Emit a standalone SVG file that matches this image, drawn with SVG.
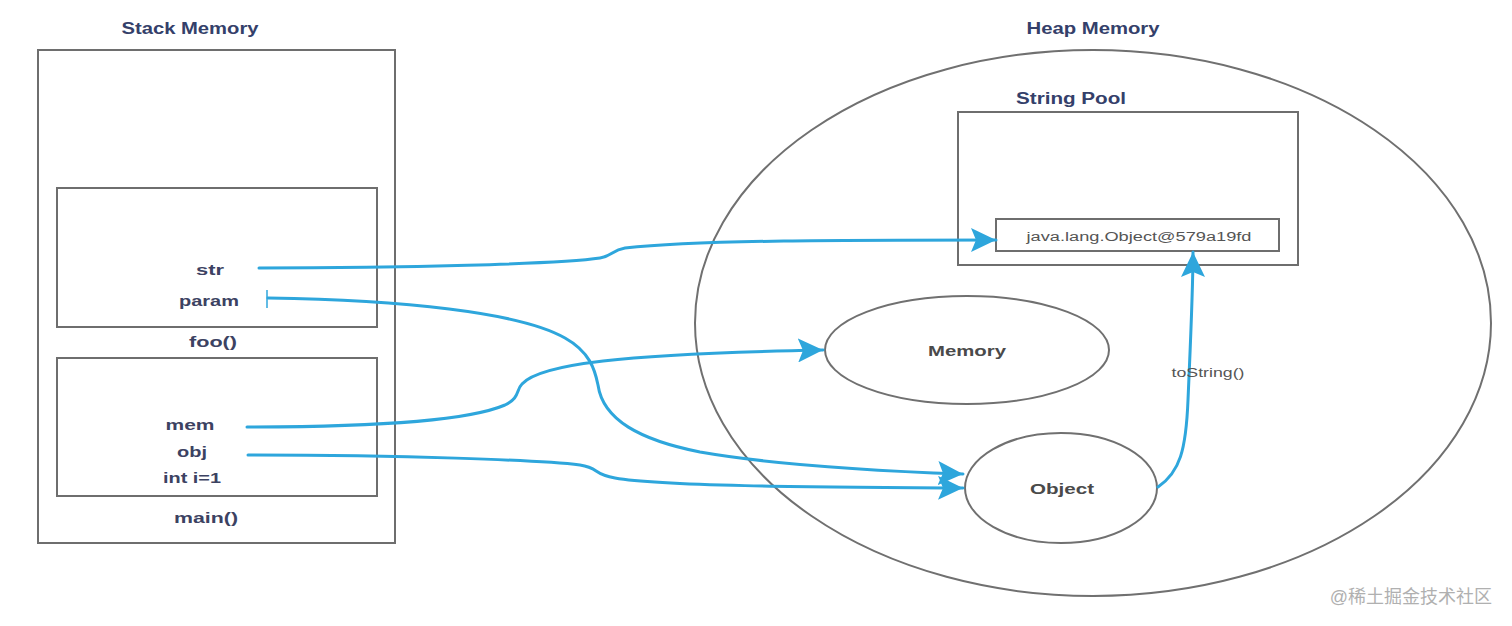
<svg xmlns="http://www.w3.org/2000/svg" width="1512" height="626" viewBox="0 0 1512 626">
<defs>
<style>
.box{fill:none;stroke:#6e6e6e;stroke-width:2}
.ell{fill:none;stroke:#707070;stroke-width:2}
.title{font-family:"Liberation Sans",Arial,sans-serif;font-weight:bold;font-size:16px;fill:#34406a}
.lbl{font-family:"Liberation Sans",Arial,sans-serif;font-weight:bold;font-size:15px;fill:#3c4262}
.node{font-family:"Liberation Sans",Arial,sans-serif;font-weight:bold;font-size:15px;fill:#4a4a4a}
.small{font-family:"Liberation Sans",Arial,sans-serif;font-size:12px;fill:#555}
.conn{fill:none;stroke:#2ea6dc;stroke-width:3;stroke-linecap:round}
.tick{fill:none;stroke:#2ea6dc;stroke-width:1.5}
.wm{font-family:"Liberation Sans","Noto Sans CJK SC",sans-serif;font-size:18px;fill:#b0b0b0}
</style>
<marker id="arr" markerUnits="userSpaceOnUse" markerWidth="28" markerHeight="24" refX="25" refY="12" orient="auto">
<path d="M0,0 L25,12 L0,24 L5,12 Z" fill="#2ea6dc"/>
</marker>
</defs>
<rect width="1512" height="626" fill="#fff"/>

<g id="stack">
<text class="title" x="190" y="34" text-anchor="middle" textLength="137" lengthAdjust="spacingAndGlyphs">Stack Memory</text>
<rect class="box" x="38" y="50" width="357" height="493"/>
</g>
<g id="foo-frame">
<rect class="box" x="57" y="188" width="320" height="139"/>
<text class="lbl" x="210" y="275" text-anchor="middle" textLength="28" lengthAdjust="spacingAndGlyphs">str</text>
<text class="lbl" x="209" y="306" text-anchor="middle" textLength="60" lengthAdjust="spacingAndGlyphs">param</text>
<text class="lbl" x="213" y="347" text-anchor="middle" textLength="48" lengthAdjust="spacingAndGlyphs">foo()</text>
</g>
<g id="main-frame">
<rect class="box" x="57" y="358" width="320" height="138"/>
<text class="lbl" x="190" y="430" text-anchor="middle" textLength="49" lengthAdjust="spacingAndGlyphs">mem</text>
<text class="lbl" x="192" y="457" text-anchor="middle" textLength="30" lengthAdjust="spacingAndGlyphs">obj</text>
<text class="lbl" x="192" y="483" text-anchor="middle" textLength="58" lengthAdjust="spacingAndGlyphs">int i=1</text>
<text class="lbl" x="206" y="523" text-anchor="middle" textLength="64" lengthAdjust="spacingAndGlyphs">main()</text>
</g>

<g id="heap">
<text class="title" x="1093" y="34" text-anchor="middle" textLength="133" lengthAdjust="spacingAndGlyphs">Heap Memory</text>
<ellipse class="ell" cx="1093" cy="323" rx="398" ry="273"/>
</g>
<g id="string-pool">
<text class="title" x="1071" y="104" text-anchor="middle" textLength="110" lengthAdjust="spacingAndGlyphs">String Pool</text>
<rect class="box" x="958" y="112" width="340" height="153"/>
</g>
<g id="string-value">
<rect class="box" x="996" y="219" width="283" height="32"/>
<text class="small" x="1139" y="241" text-anchor="middle" textLength="225" lengthAdjust="spacingAndGlyphs">java.lang.Object@579a19fd</text>
</g>
<g id="memory-obj">
<ellipse class="ell" cx="967" cy="350" rx="142" ry="54"/>
<text class="node" x="967" y="356" text-anchor="middle" textLength="78" lengthAdjust="spacingAndGlyphs">Memory</text>
</g>
<g id="object-obj">
<ellipse class="ell" cx="1061" cy="488" rx="96" ry="55"/>
<text class="node" x="1062" y="494" text-anchor="middle" textLength="64" lengthAdjust="spacingAndGlyphs">Object</text>
</g>

<g id="connectors">
<path class="conn" marker-end="url(#arr)" d="M259,268 C400,268 560,264 600,258 C612,256 612,250 625,248 C700,240 850,240 996,240"/>
<path class="tick" d="M267,290 L267,308"/>
<path class="conn" marker-end="url(#arr)" d="M268,298 C400,300 520,312 565,338 C590,352 595,370 598,385 C603,420 640,440 700,452 C780,466 880,471 963,474"/>
<path class="conn" marker-end="url(#arr)" d="M247,427 C380,427 470,420 505,405 C520,398 516,390 522,384 C540,364 620,354 823,350"/>
<path class="conn" marker-end="url(#arr)" d="M248,455 C400,455 540,460 580,465 C600,468 592,474 615,478 C660,486 800,487 963,488"/>
<path class="conn" marker-end="url(#arr)" d="M1158,487 C1180,472 1186,450 1188,400 C1191,330 1193,290 1193,252"/>
<text class="small" x="1208" y="377" text-anchor="middle" textLength="73" lengthAdjust="spacingAndGlyphs">toString()</text>
</g>

<text class="wm" x="1492" y="603" text-anchor="end">@稀土掘金技术社区</text>
</svg>
